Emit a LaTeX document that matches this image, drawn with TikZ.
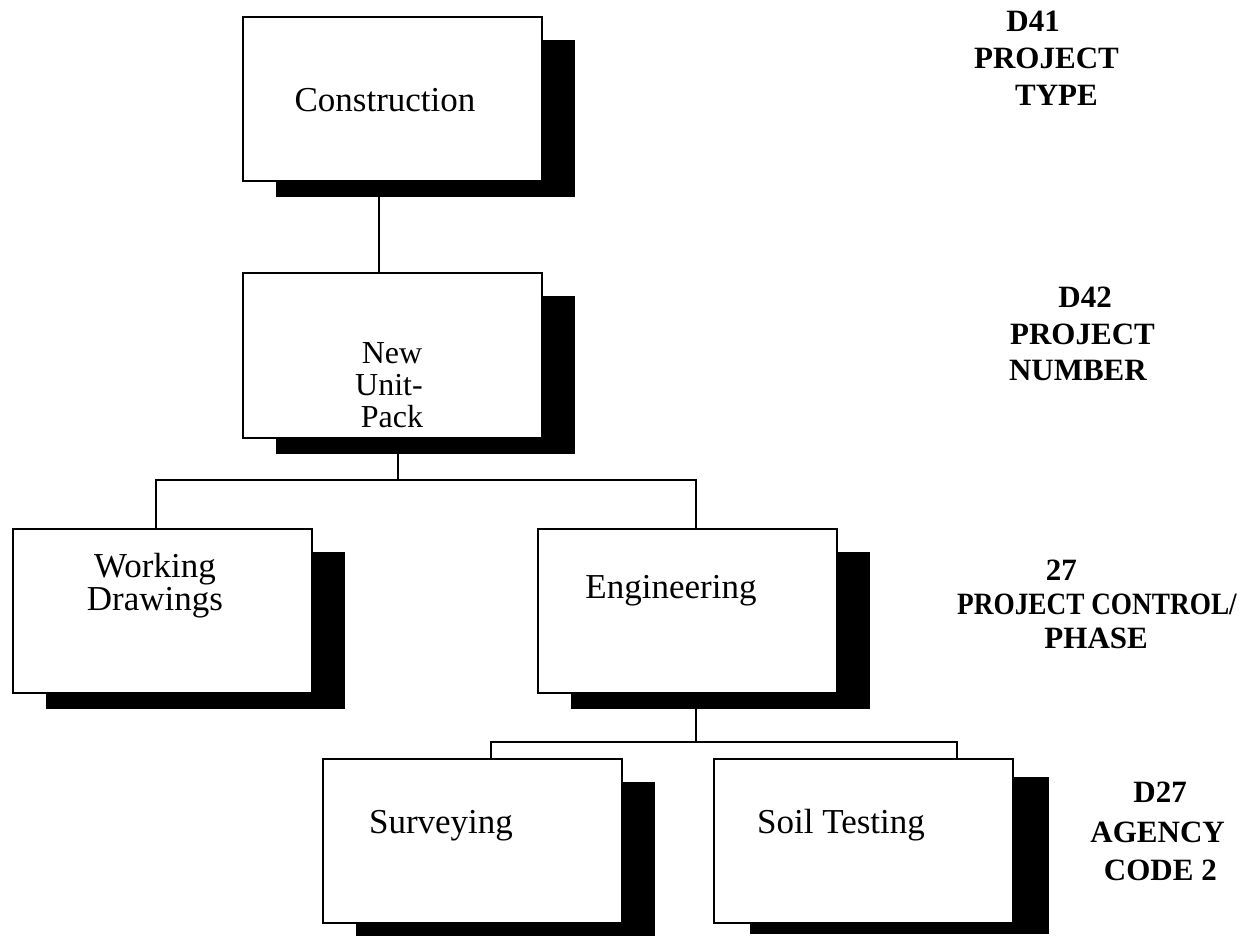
\documentclass[tikz,border=0pt]{standalone}
\usepackage{fontspec}
\setmainfont{Liberation Serif}
\usetikzlibrary{calc,backgrounds}

% solid drop shadow behind a box: #2 = x offset, #3 = top offset, #4 = bottom offset
\newcommand\boxshadow[4]{%
  \fill ($(#1.north west)+(#2,#3)$) rectangle ($(#1.south east)+(#2,#4)$);}

\begin{document}
\begin{tikzpicture}[x=1pt,y=-1pt,
  box/.style={draw, line width=2pt, fill=white, minimum width=299pt,
    minimum height=164pt, inner sep=0pt, outer sep=0pt},
  boxtext/.style={font=\fontsize{35}{40}\selectfont, inner sep=0pt, anchor=base},
  smalltext/.style={boxtext, font=\fontsize{32}{36}\selectfont},
  tag/.style={font=\fontsize{31}{36}\selectfont\bfseries, inner sep=0pt, anchor=base east},
  link/.style={line width=2pt}]
\useasboundingbox (0,0) rectangle (1248,936);

% boxes
\node[box] (con)  at (392,99.5)  {};
\node[box] (nup)  at (392,355.5) {};
\node[box] (wd)   at (162.5,611) {};
\node[box] (eng)  at (687.5,611) {};
\node[box] (sur)  at (472.5,841) {};
\node[box] (soil) at (863.5,841) {};

% box captions
\node[boxtext] (con-t)  at (385,112) {Construction};
\node[smalltext] (nup-1)  at (392,363) {New};
\node[smalltext] (nup-2)  at (389,395) {Unit-};
\node[smalltext] (nup-3)  at (392,427) {Pack};
\node[boxtext] (wd-1)   at (155,577) {Working};
\node[boxtext] (wd-2)   at (155,610) {Drawings};
\node[boxtext] (eng-t)  at (671,598) {Engineering};
\node[boxtext] (sur-t)  at (441,833) {Surveying};
\node[boxtext] (soil-t) at (841,833) {Soil Testing};

% shadows
\begin{scope}[on background layer]
  \boxshadow{con}{33}{23}{16}
  \boxshadow{nup}{33}{22}{16}
  \boxshadow{wd}{33}{23}{16}
  \boxshadow{eng}{33}{23}{16}
  \boxshadow{sur}{33}{23}{13}
  \boxshadow{soil}{36}{18}{11}
\end{scope}

% connectors
\coordinate (b1m) at (398,480);
\coordinate (b1l) at (156,480);
\coordinate (b1r) at (696,480);
\coordinate (b2m) at (696,742);
\coordinate (b2l) at (491,742);
\coordinate (b2r) at (957,742);
\draw[link] ([xshift=-13pt]con.south) -- ([xshift=-13pt]nup.north);
\draw[link] (nup.south -| b1m) -- (b1m);
\draw[link] (wd.north -| b1l) -- (b1l) -- (b1r) -- (eng.north -| b1r);
\draw[link] (eng.south -| b2m) -- (b2m);
\draw[link] (sur.north -| b2l) -- (b2l) -- (b2r) -- (soil.north -| b2r);

% level labels
\node[tag] (l1a) at (1060,32)  {D41};
\node[tag] (l1b) at (1119,69)  {PROJECT};
\node[tag] (l1c) at (1098,106) {TYPE};
\node[tag] (l2a) at (1112,307) {D42};
\node[tag] (l2b) at (1155,344) {PROJECT};
\node[tag] (l2c) at (1147,380) {NUMBER};
\node[tag] (l3a) at (1077,580) {27};
\node[tag] (l3b) at (1237,614) {\scalebox{0.88}[1]{PROJECT CONTROL/}};
\node[tag] (l3c) at (1148,648) {PHASE};
\node[tag] (l4a) at (1187,802) {D27};
\node[tag] (l4b) at (1225,842) {AGENCY};
\node[tag] (l4c) at (1217,880) {CODE 2};
\end{tikzpicture}
\end{document}
